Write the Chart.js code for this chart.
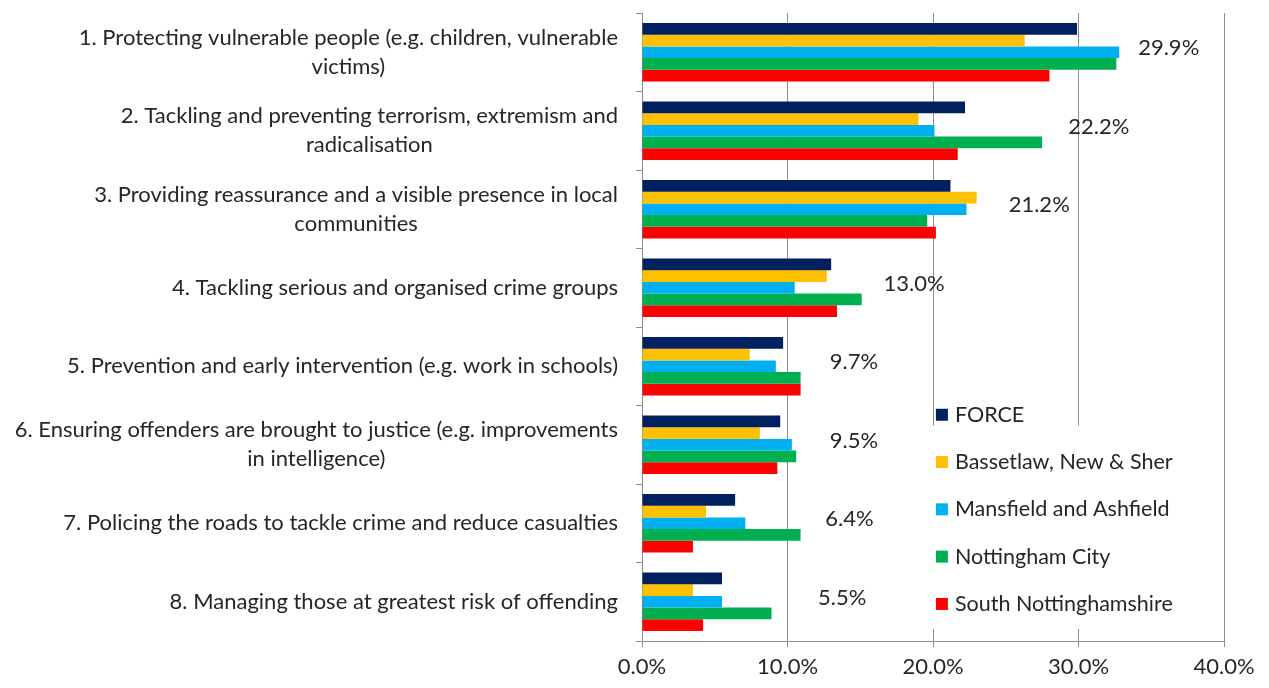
<!DOCTYPE html>
<html>
<head>
<meta charset="utf-8">
<script src="https://cdn.jsdelivr.net/npm/chart.js@4/dist/chart.umd.min.js"></script>
<style>
html, body { margin:0; padding:0; background:#fff; }
</style>
</head>
<body>
<canvas id="chart" width="1269" height="688"></canvas>
<script>
// categories (split in lines like the original)
var categories = [
  ["1. Protecting vulnerable people (e.g. children, vulnerable", "victims)"],
  ["2. Tackling and preventing terrorism, extremism and", "radicalisation"],
  ["3. Providing reassurance and a visible presence in local", "communities"],
  ["4. Tackling serious and organised crime groups"],
  ["5. Prevention and early intervention (e.g. work in schools)"],
  ["6. Ensuring offenders are brought to justice (e.g. improvements", "in intelligence)"],
  ["7. Policing the roads to tackle crime and reduce casualties"],
  ["8. Managing those at greatest risk of offending"]
];
var seriesNames = ["FORCE", "Bassetlaw, New & Sher", "Mansfield and Ashfield", "Nottingham City", "South Nottinghamshire"];
var force      = [29.9, 22.2, 21.2, 13.0, 9.7, 9.5, 6.4, 5.5];
var bassetlaw  = [26.3, 19.0, 23.0, 12.7, 7.4, 8.1, 4.4, 3.5];
var mansfield  = [32.8, 20.1, 22.3, 10.5, 9.2, 10.3, 7.1, 5.5];
var nottingham = [32.6, 27.5, 19.6, 15.1, 10.9, 10.6, 10.9, 8.9];
var southNotts = [28.0, 21.7, 20.2, 13.4, 10.9, 9.3, 3.5, 4.2];
var xTicks = [0, 10, 20, 30, 40];
// where the FORCE value labels sit (in % along the axis)
var forceLabelAt = [34.1, 29.3, 25.2, 16.6, 12.9, 12.9, 12.6, 12.1];

var colours = ["#002060", "#FFC000", "#00B0F0", "#00B050", "#FF0000"];
var FONT = "Lato, 'Open Sans', sans-serif";
var TXT = "#262626";

var allData = [force, bassetlaw, mansfield, nottingham, southNotts];
var datasets = [];
for (var s = 0; s < allData.length; s++) {
  datasets.push({
    label: seriesNames[s],
    data: allData[s],
    backgroundColor: colours[s],
    borderWidth: 0,
    categoryPercentage: 0.745,
    barPercentage: 1
  });
}

// draws category labels, FORCE values and the legend inside the plot
var extras = {
  id: "extras",
  afterDraw: function (chart) {
    var ctx = chart.ctx;
    var x = chart.scales.x, y = chart.scales.y;
    ctx.save();
    ctx.fillStyle = TXT;
    ctx.textBaseline = "middle";

    // category labels: lines centred on each other, block right aligned
    ctx.font = "22px " + FONT;
    var right = x.left - 24;
    var lh = 29;
    for (var i = 0; i < categories.length; i++) {
      var lines = categories[i];
      var w = 0;
      for (var k = 0; k < lines.length; k++) w = Math.max(w, ctx.measureText(lines[k]).width);
      var cx = right - w / 2;
      var cy = y.getPixelForValue(i) - (lines.length - 1) * lh / 2;
      ctx.textAlign = "center";
      for (k = 0; k < lines.length; k++) ctx.fillText(lines[k], cx, cy + k * lh);
    }

    // FORCE value labels
    ctx.font = "22px " + FONT;
    ctx.textAlign = "left";
    for (i = 0; i < force.length; i++) {
      ctx.fillText(force[i].toFixed(1) + "%", x.getPixelForValue(forceLabelAt[i]), y.getPixelForValue(i) - 4);
    }

    // legend box (white, hides the grid lines behind it)
    var bx0 = x.getPixelForValue(19.75), bx1 = x.getPixelForValue(38.6);
    var by0 = y.getPixelForValue(4.5) + 20, by1 = chart.chartArea.bottom - 12;
    ctx.fillStyle = "#fff";
    ctx.fillRect(bx0, by0, bx1 - bx0, by1 - by0);

    ctx.font = "21.5px " + FONT;
    var lx = x.getPixelForValue(20.2);
    var ly = y.getPixelForValue(5) - 30;
    for (i = 0; i < seriesNames.length; i++) {
      var yy = ly + i * 47.3;
      ctx.fillStyle = colours[i];
      ctx.fillRect(lx, yy - 6, 12, 12);
      ctx.fillStyle = TXT;
      ctx.fillText(seriesNames[i], lx + 19, yy);
    }
    ctx.restore();
  }
};

new Chart(document.getElementById("chart"), {
  type: "bar",
  data: { labels: categories, datasets: datasets },
  plugins: [extras],
  options: {
    indexAxis: "y",
    responsive: false,
    devicePixelRatio: 1,
    animation: false,
    layout: { padding: { top: 13, right: 45, left: 0, bottom: 0 } },
    plugins: { legend: { display: false }, tooltip: { enabled: false } },
    scales: {
      x: {
        min: 0, max: 40,
        afterBuildTicks: function (s) { s.ticks = xTicks.map(function (v) { return { value: v }; }); },
        afterFit: function (s) { s.height = 47; },
        ticks: {
          callback: function (v) { return v.toFixed(1) + "%"; },
          font: { family: FONT, size: 22 },
          color: TXT,
          padding: 7,
          maxRotation: 0
        },
        grid: { color: "#8c8c8c", tickLength: 6, lineWidth: 1 },
        border: { color: "#8c8c8c" }
      },
      y: {
        afterFit: function (s) { s.width = 642; },
        ticks: { display: false },
        grid: { drawOnChartArea: false, tickLength: 6, color: "#8c8c8c", offset: true },
        border: { color: "#8c8c8c" }
      }
    }
  }
});
</script>
</body>
</html>
